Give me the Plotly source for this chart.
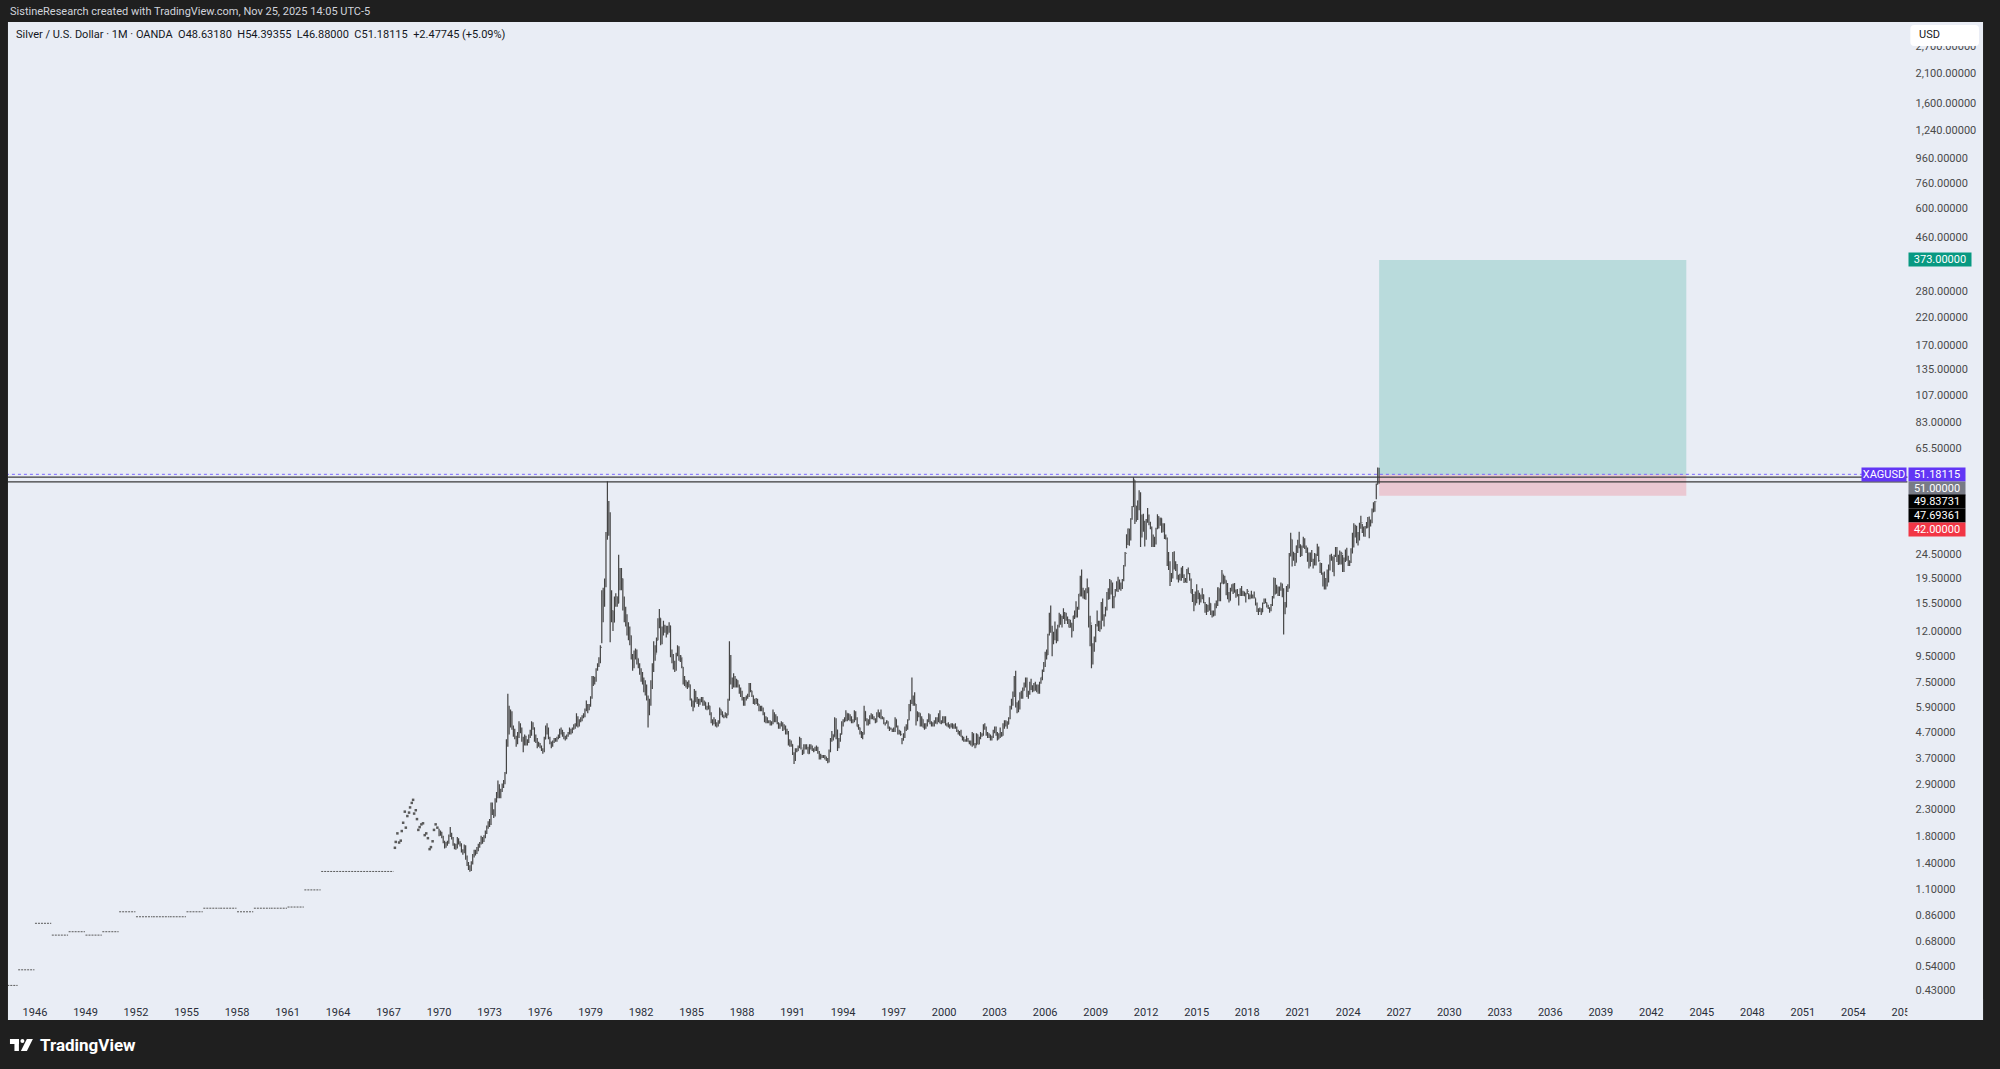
import numpy as np
import pandas as pd
import plotly.graph_objects as go

W, H = 2000, 1069

# ---------------- DATA ----------------
# Early (pre-1967) annual price levels, drawn as dotted monthly dashes
seg_start = ["1944-01-01", "1945-01-01", "1946-01-01", "1947-01-01", "1948-01-01", "1949-01-01",
             "1950-01-01", "1951-01-01", "1952-01-01", "1953-01-01", "1954-01-01", "1955-01-01",
             "1956-01-01", "1957-01-01", "1958-01-01", "1959-01-01", "1960-01-01", "1961-01-01",
             "1962-01-01", "1963-01-01"]
seg_end = ["1944-12-20", "1945-12-20", "1946-12-20", "1947-12-20", "1948-12-20", "1949-12-20",
           "1950-12-20", "1951-12-20", "1952-12-20", "1953-12-20", "1954-12-20", "1955-12-20",
           "1956-12-20", "1957-12-20", "1958-12-20", "1959-12-20", "1960-12-20", "1961-12-20",
           "1962-12-20", "1967-04-20"]
seg_price = [0.45, 0.52, 0.80, 0.717, 0.74, 0.717, 0.74, 0.89, 0.85, 0.85, 0.85, 0.89,
             0.92, 0.92, 0.89, 0.92, 0.92, 0.93, 1.09, 1.293]

# Sparse 1967-1969 prints
dot_dates = ["1967-05-19", "1967-06-06", "1967-07-12", "1967-08-18", "1967-09-23", "1967-10-15",
             "1967-11-14", "1967-12-20", "1968-01-11", "1968-02-13", "1968-03-21", "1968-04-12",
             "1968-05-19", "1968-06-17", "1968-07-09", "1968-08-14", "1968-09-09", "1968-10-08",
             "1968-11-06", "1968-12-13", "1969-01-18", "1969-02-24", "1969-03-29", "1969-05-04",
             "1969-06-10", "1969-07-09", "1969-08-14", "1969-09-13", "1969-10-19", "1969-11-25"]
dot_price = [1.61, 1.70, 1.84, 1.69, 1.72, 1.88, 2.03, 2.25, 1.94, 2.16, 2.23, 2.34,
             2.44, 2.51, 2.21, 2.28, 2.10, 1.90, 1.95, 2.00, 2.02, 1.81, 1.84, 1.76,
             1.59, 1.62, 1.71, 1.90, 2.00, 1.94]

# Monthly bars from Jan 1970 (open of a bar = previous close)
first_open = 1.80

close_1970s = [1.87,1.83,1.78,1.70,1.64,1.66,1.68,1.80,1.83,1.76,1.66,1.64,
               1.62,1.74,1.68,1.66,1.57,1.55,1.63,1.47,1.39,1.35,1.32,1.39,
               1.48,1.54,1.53,1.58,1.63,1.67,1.74,1.72,1.78,1.84,1.93,2.04,
               2.02,2.35,2.28,2.18,2.47,2.56,2.85,2.70,2.72,2.87,2.93,3.20,
               4.20,5.80,5.20,5.40,4.90,4.60,4.50,4.30,4.55,4.80,4.80,4.40,
               4.20,4.45,4.30,4.30,4.55,4.60,5.00,4.90,4.40,4.40,4.20,4.20,
               4.10,4.00,3.95,4.40,4.70,4.85,4.45,4.30,4.20,4.30,4.40,4.37,
               4.45,4.50,4.70,4.70,4.65,4.50,4.45,4.55,4.65,4.80,4.70,4.85,
               4.95,5.00,5.40,5.05,5.20,5.30,5.40,5.50,5.75,6.00,5.90,6.00,
               6.50,7.60,7.50,7.60,8.40,8.70,9.00,10.30,16.50,16.00,19.00,28.00]
high_1970s = [1.92,1.89,1.87,1.80,1.72,1.70,1.72,1.82,1.95,1.85,1.78,1.68,
              1.67,1.78,1.76,1.71,1.68,1.59,1.66,1.65,1.50,1.41,1.37,1.42,
              1.52,1.58,1.58,1.62,1.67,1.70,1.80,1.78,1.81,1.89,1.98,2.06,
              2.10,2.45,2.45,2.30,2.55,2.70,3.00,2.90,2.78,2.92,3.02,3.25,
              4.40,6.70,6.00,5.80,5.70,5.00,4.85,4.55,4.70,5.20,5.10,4.90,
              4.50,4.60,4.55,4.40,4.60,4.80,5.20,5.15,4.90,4.60,4.45,4.30,
              4.25,4.15,4.05,4.50,5.00,5.10,4.90,4.50,4.30,4.35,4.45,4.45,
              4.50,4.60,4.85,4.90,4.80,4.70,4.55,4.60,4.70,4.90,4.85,4.90,
              5.05,5.10,5.60,5.45,5.30,5.40,5.50,5.60,5.85,6.30,6.10,6.10,
              6.55,7.90,7.90,7.85,8.50,8.90,9.40,10.50,17.50,17.90,19.50,30.00]
low_1970s = [1.79,1.80,1.76,1.68,1.60,1.61,1.64,1.67,1.78,1.74,1.64,1.59,
             1.58,1.60,1.66,1.63,1.54,1.51,1.53,1.44,1.36,1.31,1.29,1.30,
             1.38,1.47,1.50,1.52,1.56,1.61,1.66,1.67,1.70,1.76,1.83,1.92,
             1.95,1.99,2.18,2.12,2.15,2.45,2.55,2.55,2.55,2.70,2.80,2.90,
             3.20,4.10,4.60,4.90,4.80,4.50,4.40,4.10,4.20,4.45,4.65,4.30,
             3.90,4.15,4.15,4.15,4.25,4.45,4.55,4.80,4.30,4.25,4.05,4.10,
             4.05,3.95,3.85,3.90,4.40,4.60,4.40,4.20,4.05,4.10,4.25,4.30,
             4.30,4.40,4.45,4.60,4.50,4.40,4.35,4.40,4.50,4.60,4.60,4.65,
             4.80,4.85,4.95,4.90,4.95,5.15,5.20,5.35,5.40,5.70,5.60,5.75,
             5.95,6.40,7.20,7.30,7.50,8.30,8.60,8.90,10.70,13.00,15.00,18.00]

close_1980s = [36.00,35.00,15.00,14.50,13.00,15.50,16.50,15.50,20.50,19.00,19.50,15.50,
               14.50,13.00,12.50,11.50,11.50,9.50,8.70,9.50,9.50,9.30,8.80,8.30,
               8.00,7.60,6.90,7.10,6.50,5.60,6.20,7.40,8.40,9.80,9.70,11.00,
               12.80,13.50,10.90,11.90,12.60,12.10,12.00,12.30,12.60,9.80,9.20,9.00,
               8.40,9.60,10.30,9.20,9.50,8.60,7.50,7.60,7.30,7.20,7.30,6.40,
               6.20,6.10,6.80,6.30,6.30,6.10,6.30,6.40,6.10,6.20,5.90,5.85,
               6.00,5.60,5.15,5.10,5.20,5.05,5.00,5.10,5.80,5.60,5.50,5.40,
               5.50,5.50,6.30,8.50,7.60,7.20,7.80,7.30,7.60,7.20,7.00,6.70,
               6.40,6.10,6.40,6.50,6.60,7.20,6.90,6.60,6.20,6.20,6.30,6.10,
               5.80,5.90,5.80,5.60,5.30,5.30,5.20,5.20,5.10,5.10,5.60,5.20]
high_1980s = [48.00,40.00,36.00,17.50,14.50,16.50,17.00,16.50,24.30,21.50,21.50,19.50,
              16.50,15.00,14.00,13.00,12.50,11.50,9.70,10.00,10.20,10.10,9.30,8.90,
              8.50,8.20,7.80,7.60,7.30,6.60,6.40,7.60,8.90,10.90,10.50,11.30,
              13.50,14.70,13.50,12.50,13.20,12.70,12.60,12.60,13.00,12.60,10.10,9.70,
              9.10,9.80,10.50,10.40,9.60,9.40,8.60,7.90,7.60,7.50,7.60,7.30,
              6.40,6.30,7.00,6.90,6.50,6.40,6.40,6.50,6.50,6.30,6.20,6.00,
              6.20,6.00,5.65,5.30,5.40,5.30,5.15,5.25,5.90,5.80,5.70,5.50,
              5.65,5.60,6.40,10.90,9.60,7.80,8.10,7.90,7.70,7.60,7.30,7.10,
              6.90,6.50,6.50,6.60,6.70,7.40,7.40,6.90,6.60,6.40,6.45,6.40,
              6.10,6.00,6.00,5.90,5.65,5.45,5.40,5.25,5.25,5.20,5.80,5.65]
low_1980s = [28.00,29.00,10.80,13.00,12.00,13.00,15.00,15.00,15.50,17.50,17.50,14.50,
             13.00,12.50,11.50,11.00,10.50,9.20,8.30,8.50,9.20,8.80,8.50,8.00,
             7.50,7.30,6.80,6.60,6.30,4.90,5.50,6.00,7.00,8.20,9.10,9.80,
             11.00,12.30,10.50,10.60,11.50,11.80,11.30,11.60,11.80,9.40,8.90,8.40,
             8.20,8.30,9.50,9.10,9.00,8.50,7.30,7.20,7.10,7.00,7.10,6.30,
             5.95,5.70,5.90,6.20,6.10,5.95,6.05,6.20,6.00,6.00,5.80,5.75,
             5.80,5.50,5.10,5.00,5.05,4.95,4.90,4.95,5.10,5.50,5.40,5.35,
             5.40,5.35,5.50,6.30,7.30,7.00,7.10,7.10,7.10,7.10,6.70,6.50,
             6.30,6.00,6.00,6.30,6.40,6.50,6.80,6.50,6.10,6.05,6.10,6.00,
             5.70,5.70,5.70,5.50,5.15,5.10,5.10,5.10,5.00,5.00,5.05,5.15]

close_1990s = [5.30,5.10,4.90,5.00,5.10,4.80,4.90,4.75,4.70,4.20,4.20,4.20,
               3.85,3.65,4.00,3.95,4.10,4.35,4.05,3.85,4.10,4.10,4.05,3.85,
               4.10,4.10,4.00,3.95,4.05,4.00,3.90,3.70,3.75,3.75,3.75,3.70,
               3.65,3.60,3.95,4.35,4.60,4.50,5.25,4.80,4.10,4.35,4.60,5.10,
               5.20,5.30,5.60,5.30,5.45,5.30,5.20,5.20,5.65,5.30,4.95,4.90,
               4.65,4.50,4.60,5.70,5.25,5.15,5.10,5.35,5.50,5.35,5.30,5.15,
               5.55,5.45,5.50,5.40,5.35,5.10,5.10,5.20,4.90,4.85,4.85,4.80,
               4.75,5.30,4.95,4.65,4.75,4.60,4.35,4.60,4.90,4.85,5.25,6.00,
               6.20,6.50,6.30,6.10,5.30,5.60,5.60,5.00,5.30,4.90,5.00,5.00,
               5.20,5.50,5.10,5.10,5.00,5.10,5.30,5.20,5.50,5.10,5.15,5.40]
high_1990s = [5.55,5.45,5.15,5.10,5.20,5.15,5.05,5.00,4.85,4.75,4.40,4.35,
              4.20,3.90,4.05,4.05,4.15,4.50,4.45,4.00,4.20,4.20,4.20,4.10,
              4.20,4.20,4.15,4.05,4.10,4.15,4.10,3.95,3.85,3.80,3.80,3.80,
              3.75,3.70,4.00,4.45,4.75,4.60,5.40,5.35,4.80,4.45,4.65,5.20,
              5.30,5.40,5.75,5.60,5.60,5.55,5.45,5.30,5.75,5.70,5.40,5.05,
              4.90,4.75,4.70,6.00,5.70,5.35,5.30,5.50,5.60,5.55,5.45,5.35,
              5.65,5.80,5.65,5.80,5.45,5.40,5.15,5.25,5.20,4.95,4.90,4.85,
              4.90,5.40,5.30,5.00,4.80,4.75,4.45,4.65,4.95,5.05,5.30,6.10,
              6.35,7.80,6.60,6.80,6.10,5.70,5.65,5.60,5.45,5.30,5.10,5.10,
              5.30,5.60,5.55,5.20,5.15,5.25,5.40,5.40,5.60,5.75,5.25,5.45]
low_1990s = [5.15,5.05,4.85,4.85,4.95,4.75,4.80,4.60,4.60,4.15,4.10,4.10,
             3.80,3.50,3.60,3.90,3.95,4.05,4.00,3.80,3.85,4.00,4.00,3.85,
             3.85,4.00,3.95,3.90,3.95,3.95,3.85,3.65,3.65,3.70,3.70,3.65,
             3.60,3.52,3.55,3.90,4.30,4.35,4.50,4.40,3.95,4.05,4.30,4.60,
             4.95,5.15,5.20,5.20,5.25,5.20,5.10,5.10,5.15,5.25,4.95,4.80,
             4.60,4.45,4.40,4.60,5.20,5.00,5.00,5.05,5.30,5.30,5.25,5.10,
             5.15,5.40,5.35,5.30,5.30,5.05,5.00,5.10,4.85,4.75,4.80,4.70,
             4.70,4.70,4.90,4.60,4.60,4.55,4.20,4.35,4.45,4.75,4.80,5.25,
             5.70,6.10,6.00,6.00,5.00,5.20,5.40,4.95,4.95,4.90,4.80,4.85,
             4.95,5.15,5.05,4.95,4.95,4.95,5.10,5.05,5.15,5.10,5.05,5.10]

close_2000s = [5.20,5.05,5.00,4.95,4.95,5.00,4.90,5.00,4.90,4.75,4.70,4.60,
               4.50,4.40,4.35,4.35,4.40,4.30,4.30,4.20,4.60,4.20,4.10,4.60,
               4.20,4.45,4.55,4.60,5.00,4.90,4.65,4.55,4.55,4.40,4.50,4.70,
               4.85,4.60,4.40,4.60,4.55,4.55,5.05,5.00,5.15,5.05,5.35,5.95,
               6.20,6.60,7.80,6.00,6.10,5.90,6.60,6.70,6.90,7.20,7.50,6.80,
               6.70,7.40,7.10,6.90,7.10,7.00,7.20,6.80,7.40,7.80,8.30,8.80,
               9.80,9.60,11.60,13.50,12.50,10.90,11.30,12.20,11.50,12.60,13.90,12.90,
               13.50,14.20,13.30,13.40,13.20,12.40,12.90,12.00,13.80,14.40,14.40,14.80,
               16.90,19.80,17.20,16.40,17.00,17.50,17.90,13.60,12.90,9.80,10.20,11.30,
               12.60,13.10,13.10,12.40,15.60,13.60,13.90,14.90,16.60,16.20,18.60,16.90]
high_2000s = [5.45,5.45,5.10,5.15,5.05,5.10,5.10,5.05,5.10,4.95,4.80,4.75,
              4.80,4.55,4.50,4.40,4.55,4.45,4.35,4.35,4.70,4.65,4.25,4.65,
              4.60,4.50,4.70,4.65,5.05,5.10,4.95,4.70,4.65,4.60,4.55,4.80,
              4.95,4.95,4.70,4.65,4.90,4.70,5.10,5.25,5.25,5.20,5.40,6.00,
              6.40,6.85,7.90,8.30,6.20,6.30,6.80,6.90,7.10,7.45,7.80,7.80,
              6.90,7.50,7.70,7.25,7.40,7.50,7.30,7.30,7.50,7.80,8.40,9.00,
              9.90,10.10,11.70,14.20,15.20,12.60,11.90,13.10,12.20,12.70,14.20,14.00,
              13.80,14.80,14.30,14.20,13.70,13.40,13.30,12.90,13.80,14.50,15.80,15.00,
              16.90,20.00,21.20,17.90,17.50,17.80,19.50,18.00,13.80,12.70,10.70,11.40,
              12.80,14.50,13.20,13.20,15.70,16.20,14.00,15.00,17.20,17.80,19.40,19.20]
low_2000s = [5.10,5.00,4.95,4.90,4.85,4.90,4.85,4.85,4.85,4.70,4.60,4.55,
             4.50,4.35,4.30,4.30,4.30,4.30,4.20,4.15,4.10,4.15,4.05,4.15,
             4.20,4.20,4.40,4.50,4.55,4.80,4.55,4.45,4.45,4.35,4.35,4.45,
             4.65,4.55,4.35,4.40,4.45,4.50,4.55,4.85,4.95,4.85,5.05,5.30,
             5.80,6.00,6.50,5.90,5.60,5.65,5.80,6.40,6.40,6.90,7.10,6.50,
             6.40,6.65,6.95,6.80,6.85,6.90,6.80,6.70,6.70,7.35,7.60,8.20,
             8.60,9.20,9.60,11.50,11.80,9.50,10.60,11.00,10.70,10.90,12.40,12.70,
             12.40,13.40,12.80,13.20,12.80,12.40,12.40,11.30,12.00,13.40,13.60,13.60,
             14.60,16.50,16.50,16.20,16.10,16.00,17.00,12.40,10.40,8.50,8.80,9.90,
             10.80,12.50,12.00,11.90,12.20,13.20,12.50,13.70,14.50,16.00,16.10,16.80]

close_2010s = [16.20,16.40,17.50,18.60,18.40,18.70,18.00,19.30,22.00,24.60,28.30,30.90,
               27.90,34.00,37.90,48.60,38.30,34.90,40.00,41.30,30.00,34.70,32.70,28.20,
               33.00,34.60,32.40,31.20,28.30,27.40,27.60,31.00,34.60,32.30,34.10,30.00,
               31.80,28.40,28.30,24.10,22.50,19.70,19.80,23.70,21.70,21.90,19.50,19.50,
               19.20,21.30,19.70,19.10,19.00,21.00,20.40,19.40,17.00,16.20,15.50,15.60,
               17.20,16.60,16.60,16.30,16.80,15.60,14.70,14.60,14.50,15.50,14.10,13.80,
               14.10,15.00,15.40,17.90,16.00,18.70,20.30,18.70,19.20,17.70,16.50,15.90,
               17.50,18.40,18.20,17.30,17.30,16.60,16.70,17.60,16.70,16.70,16.60,16.90,
               17.30,16.40,16.40,16.30,16.40,16.30,15.50,14.50,14.60,14.70,14.20,15.50,
               16.10,15.60,15.10,14.90,14.60,15.30,16.40,18.40,17.00,18.00,16.90,17.90]
high_2010s = [18.80,16.60,17.70,19.00,19.80,19.30,18.80,19.40,22.10,24.90,29.40,31.00,
              30.90,34.10,38.20,49.84,48.50,38.20,40.20,44.20,43.40,35.30,35.50,33.30,
              33.80,37.50,35.30,33.00,31.60,29.30,28.70,31.20,35.40,34.70,34.20,34.10,
              32.50,32.50,29.30,28.50,24.90,22.90,20.50,24.90,25.10,22.90,22.30,20.20,
              20.40,21.60,21.90,20.30,19.60,21.30,21.60,20.50,19.50,17.70,16.90,17.30,
              18.50,17.50,17.10,16.80,17.80,16.80,15.70,15.40,15.30,16.40,15.50,14.50,
              14.50,15.50,15.90,18.00,17.80,18.80,21.10,20.20,20.00,19.20,18.70,17.20,
              17.90,18.50,18.60,18.70,17.60,17.70,16.90,17.80,18.20,17.40,17.30,17.10,
              17.70,17.00,16.80,17.40,16.80,17.30,16.20,15.60,14.80,14.90,14.80,15.60,
              16.20,16.20,15.60,15.30,14.90,15.40,16.60,19.70,19.60,18.40,18.10,18.10]
low_2010s = [14.80,14.80,16.50,17.30,17.20,17.60,17.40,17.70,19.00,21.80,25.80,26.60,
             26.40,27.70,33.60,37.80,32.30,33.00,33.50,36.70,26.10,28.50,30.10,26.20,
             27.90,32.70,31.90,30.80,26.10,26.10,26.10,26.70,30.80,31.00,31.80,29.80,
             29.90,28.10,28.00,21.90,21.10,18.20,18.90,19.50,21.20,20.90,19.30,18.80,
             19.20,19.10,19.60,18.70,18.80,18.70,20.30,19.10,17.00,15.70,14.40,15.20,
             15.50,16.10,15.30,15.60,16.10,15.50,14.20,13.90,14.30,14.50,13.90,13.60,
             13.70,13.80,14.80,15.10,15.80,15.80,18.60,18.50,18.60,16.70,16.10,15.60,
             15.90,17.30,16.90,17.10,16.30,16.50,15.20,16.60,16.60,16.60,16.60,15.60,
             16.90,16.10,16.10,16.20,16.20,16.20,15.20,14.30,13.90,14.30,13.90,14.30,
             15.40,15.50,14.90,14.70,14.20,14.40,15.10,16.20,16.80,17.00,16.60,16.60]

close_2020s = [18.00,16.60,14.10,15.00,17.90,17.80,24.40,28.00,23.30,23.90,22.60,26.40,
               26.90,26.70,24.50,26.00,27.50,26.00,25.50,24.00,22.00,24.00,23.00,23.30,
               22.40,24.30,25.10,23.00,21.70,20.30,20.20,17.90,19.00,19.20,21.60,23.90,
               23.90,20.80,24.10,25.00,23.60,22.80,24.80,24.60,22.40,22.90,25.30,23.80,
               23.00,22.70,24.90,26.60,31.30,29.10,28.60,28.90,31.10,32.70,30.40,28.90,
               31.30,31.20,34.10,32.60,33.00,36.10,36.70,39.70,46.60,48.70,51.18115]
high_2020s = [18.80,18.60,17.80,15.70,18.20,18.50,24.70,29.80,28.00,25.00,24.70,26.50,
              27.90,30.10,26.70,26.50,28.70,28.30,26.50,26.00,24.80,24.80,25.40,23.40,
              24.70,24.50,26.90,26.20,22.60,22.50,20.60,20.80,19.60,21.20,22.20,24.30,
              24.50,23.80,24.30,26.10,26.10,24.30,25.30,25.00,24.30,23.70,25.50,25.90,
              24.10,23.00,25.80,29.80,32.50,32.10,31.80,30.00,32.70,34.90,32.30,31.60,
              31.70,32.90,34.50,34.60,33.70,37.30,39.50,40.00,47.00,54.47,54.39355]
low_2020s = [17.40,16.40,11.60,14.00,14.90,17.20,17.80,23.90,21.80,23.00,21.90,22.60,
             24.70,25.80,23.80,24.00,25.90,25.60,24.70,22.80,21.40,21.80,22.70,21.40,
             22.00,22.00,24.00,22.80,20.50,20.20,18.10,17.60,17.60,18.10,18.80,21.00,
             23.00,20.70,19.90,23.80,22.70,22.10,22.20,22.20,20.70,20.70,22.70,23.00,
             21.90,21.90,22.50,24.60,26.00,28.50,27.00,26.50,27.70,30.90,29.70,28.80,
             28.70,31.00,31.20,28.30,31.60,32.50,36.00,36.20,40.60,46.60,46.88]

# Horizontal levels and long-position tool
last_price = 51.18115
level_hi = 49.83731
level_lo = 47.69361
entry_price = 51.0
target_price = 373.0
stop_price = 42.0
pos_start = "2025-11-01"
pos_end = "2044-01-30"

# Axis ticks (the ones hidden under the price-scale badges are left out)
price_ticks = [0.43, 0.54, 0.68, 0.86, 1.1, 1.4, 1.8, 2.3, 2.9, 3.7, 4.7, 5.9, 7.5, 9.5, 12,
               15.5, 19.5, 24.5, 65.5, 83, 107, 135, 170, 220, 280, 460,
               600, 760, 960, 1240, 1600, 2100, 2700]
year_ticks = ["1946", "1949", "1952", "1955", "1958", "1961", "1964", "1967", "1970", "1973",
              "1976", "1979", "1982", "1985", "1988", "1991", "1994", "1997", "2000", "2003",
              "2006", "2009", "2012", "2015", "2018", "2021", "2024", "2027", "2030", "2033",
              "2036", "2039", "2042", "2045", "2048", "2051", "2054", "2057"]

# ---------------- BUILD ----------------
closes = close_1970s + close_1980s + close_1990s + close_2000s + close_2010s + close_2020s
highs = high_1970s + high_1980s + high_1990s + high_2000s + high_2010s + high_2020s
lows = low_1970s + low_1980s + low_1990s + low_2000s + low_2010s + low_2020s
opens = [first_open] + closes[:-1]
dates = pd.date_range("1970-01-01", periods=len(closes), freq="MS")


def px(x):
    return x / W


def py(y):
    return 1 - y / H


PANEL = "#e9edf5"
DARK = "#1f1f1f"
BAR = "#454545"
FONT = "Roboto"

fig = go.Figure()

# early dotted dashes
sx, sy = [], []
for a, b, p in zip(seg_start, seg_end, seg_price):
    sx += [a, b, None]
    sy += [p, p, None]
fig.add_trace(go.Scatter(x=sx, y=sy, mode="lines",
                         line=dict(color="#5a5a5a", width=1, dash="2px,1px"),
                         hoverinfo="skip"))

# sparse prints
fig.add_trace(go.Scatter(x=dot_dates, y=dot_price, mode="markers",
                         marker=dict(color="#5a5a5a", size=2.5, symbol="square"),
                         hoverinfo="skip"))

# position tool (teal target / red stop)
fig.add_trace(go.Scatter(x=[pos_start, pos_end, pos_end, pos_start, pos_start],
                         y=[entry_price, entry_price, target_price, target_price, entry_price],
                         fill="toself", fillcolor="rgba(8,153,129,0.21)", mode="lines",
                         line=dict(width=0), hoverinfo="skip"))
fig.add_trace(go.Scatter(x=[pos_start, pos_end, pos_end, pos_start, pos_start],
                         y=[stop_price, stop_price, entry_price, entry_price, stop_price],
                         fill="toself", fillcolor="rgba(242,54,69,0.2)", mode="lines",
                         line=dict(width=0), hoverinfo="skip"))

# monthly bars
fig.add_trace(go.Ohlc(x=dates, open=opens, high=highs, low=lows, close=closes,
                      increasing=dict(line=dict(color=BAR, width=1.2)),
                      decreasing=dict(line=dict(color=BAR, width=1.2)),
                      tickwidth=0.45, hoverinfo="skip"))

# horizontal levels
x_full = ["1940-01-01", "2060-01-01"]
fig.add_trace(go.Scatter(x=x_full, y=[level_hi, level_hi], mode="lines",
                         line=dict(color="#3a3a3a", width=1.3), hoverinfo="skip"))
fig.add_trace(go.Scatter(x=x_full, y=[level_lo, level_lo], mode="lines",
                         line=dict(color="#3a3a3a", width=1.3), hoverinfo="skip"))
fig.add_trace(go.Scatter(x=x_full, y=[last_price, last_price], mode="lines",
                         line=dict(color="#7a66ff", width=1, dash="dot"), hoverinfo="skip"))

x_left, x_right = "1944-05-25", "2057-03-18"
y_lo, y_hi = -0.3974, 3.5286

fig.update_layout(
    width=W, height=H,
    margin=dict(l=0, r=0, t=0, b=0),
    paper_bgcolor=DARK, plot_bgcolor="rgba(0,0,0,0)",
    showlegend=False, hovermode=False,
    font=dict(family=FONT, size=11, color="#131722"),
    xaxis=dict(type="date", domain=[px(8), px(1916)], range=[x_left, x_right],
               showgrid=False, zeroline=False, showline=False,
               ticks="outside", ticklen=4, tickcolor="rgba(0,0,0,0)",
               tickvals=[f"{t}-01-01" for t in year_ticks], ticktext=year_ticks,
               tickfont=dict(family=FONT, size=11, color="#2a2e39"),
               rangeslider=dict(visible=False), fixedrange=True),
    yaxis=dict(type="log", domain=[py(998), py(22)], range=[y_lo, y_hi], side="right",
               showgrid=False, zeroline=False, showline=False,
               ticks="outside", ticklen=5, tickcolor="rgba(0,0,0,0)",
               tickvals=price_ticks, tickformat=",.5f",
               tickfont=dict(family=FONT, size=11, color="#4a4a4a"),
               fixedrange=True),
)

shapes = []
# panel background
shapes.append(dict(type="rect", xref="paper", yref="paper", x0=px(8), x1=px(1992),
                   y0=py(1020), y1=py(22), fillcolor=PANEL, line=dict(width=0), layer="below"))
# hide part of the last year label behind the price scale
shapes.append(dict(type="rect", xref="paper", yref="paper", x0=px(1916), x1=px(1992),
                   y0=py(1020), y1=py(999), fillcolor=PANEL, line=dict(width=0), layer="above"))
# USD box (rounded)
x0, x1, y0, y1, r = 1919, 1988, 25, 46, 4
path = (f"M {px(x0+r)} {py(y0)} L {px(x1-r)} {py(y0)} Q {px(x1)} {py(y0)} {px(x1)} {py(y0+r)} "
        f"L {px(x1)} {py(y1-r)} Q {px(x1)} {py(y1)} {px(x1-r)} {py(y1)} "
        f"L {px(x0+r)} {py(y1)} Q {px(x0)} {py(y1)} {px(x0)} {py(y1-r)} "
        f"L {px(x0)} {py(y0+r)} Q {px(x0)} {py(y0)} {px(x0+r)} {py(y0)} Z")
shapes.append(dict(type="path", xref="paper", yref="paper", path=path,
                   fillcolor="#ffffff", line=dict(width=0), layer="above"))
# TradingView logo glyph
shapes.append(dict(type="rect", xref="paper", yref="paper", x0=px(10), x1=px(19),
                   y0=py(1044), y1=py(1039), fillcolor="#ffffff", line=dict(width=0)))
shapes.append(dict(type="rect", xref="paper", yref="paper", x0=px(14.5), x1=px(19),
                   y0=py(1051), y1=py(1039), fillcolor="#ffffff", line=dict(width=0)))
shapes.append(dict(type="circle", xref="paper", yref="paper", x0=px(20.5), x1=px(24.5),
                   y0=py(1043), y1=py(1039), fillcolor="#ffffff", line=dict(width=0)))
shapes.append(dict(type="path", xref="paper", yref="paper",
                   path=f"M {px(27)} {py(1039)} L {px(33)} {py(1039)} L {px(27)} {py(1051)} L {px(21)} {py(1051)} Z",
                   fillcolor="#ffffff", line=dict(width=0)))
fig.update_layout(shapes=shapes)

ann = []
ann.append(dict(text="SistineResearch created with TradingView.com, Nov 25, 2025 14:05 UTC-5",
                xref="paper", yref="paper", x=px(8), y=py(11), xanchor="left", yanchor="middle",
                showarrow=False, font=dict(family=FONT, size=11, color="#d1d4dc")))
ann.append(dict(text="Silver / U.S. Dollar · 1M · OANDA  O48.63180  H54.39355  L46.88000  C51.18115  +2.47745 (+5.09%)",
                xref="paper", yref="paper", x=px(14), y=py(34), xanchor="left", yanchor="middle",
                showarrow=False, font=dict(family=FONT, size=11, color="#131722")))
ann.append(dict(text="<b>TradingView</b>", xref="paper", yref="paper", x=px(38), y=py(1045),
                xanchor="left", yanchor="middle", showarrow=False,
                font=dict(family=FONT, size=17, color="#ffffff")))
ann.append(dict(text="USD", xref="paper", yref="paper", x=px(1926), y=py(35),
                xanchor="left", yanchor="middle", showarrow=False,
                font=dict(family=FONT, size=11, color="#131722")))


# price-scale labels
def price_label(value, text, bg, yshift, width=54):
    return dict(text=text, xref="paper", yref="y", x=px(1917), y=np.log10(value), yshift=yshift,
                xanchor="left", yanchor="middle", showarrow=False, bgcolor=bg,
                width=width, height=11, borderpad=1, align="center",
                font=dict(family=FONT, size=11, color="#ffffff"))


ann.append(price_label(target_price, "373.00000", "#089981", 0, width=60))
ann.append(price_label(last_price, "51.18115", "#6236f5", 0))
ann.append(price_label(last_price, "51.00000", "#787b86", -13.8))
ann.append(price_label(last_price, "49.83731", "#000000", -27.6))
ann.append(price_label(last_price, "47.69361", "#000000", -41.4))
ann.append(price_label(last_price, "42.00000", "#f23645", -55.2))
ann.append(dict(text="XAGUSD", xref="paper", yref="y", x=px(1916), y=np.log10(last_price),
                xanchor="right", yanchor="middle", showarrow=False, bgcolor="#6236f5",
                width=42, height=11, borderpad=1, align="center",
                font=dict(family=FONT, size=11, color="#ffffff")))
fig.update_layout(annotations=ann)

fig.write_html("out.html", config={"displayModeBar": False},
               post_script="document.body.style.margin='0';document.body.style.overflow='hidden';")
